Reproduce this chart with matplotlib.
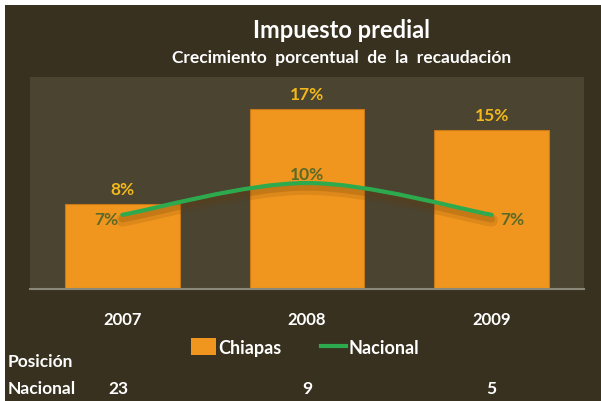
import matplotlib
matplotlib.use("Agg")
import matplotlib.pyplot as plt
from matplotlib.path import Path
from matplotlib.patches import PathPatch, Rectangle
from matplotlib.lines import Line2D
import matplotlib.patheffects as pe
import numpy as np

plt.rcParams['font.family'] = ['Lato', 'DejaVu Sans']
plt.rcParams['font.weight'] = 'bold'

#____datos
years = ['2007', '2008', '2009']
chiapas = [8, 17, 15]
nacional = [7, 10, 7]
posicion = ['23', '9', '5']

bg = '#38311f'
plotbg = '#4a4430'
orange = '#f0961e'
green = '#2eaa4e'
barlab = '#f2b81c'
linelab = '#5c6a28'

fig = plt.figure(figsize=(6.01, 4.02), dpi=100)
fig.patch.set_facecolor('white')
fig.patches.append(Rectangle((5/601, 0), 1, (402-6)/402, transform=fig.transFigure,
                             facecolor=bg, edgecolor='none', zorder=-10))

ax = fig.add_axes([30/601, 112/402, 554/601, 212/402])
ax.set_facecolor(plotbg)
x = np.arange(len(years))
ax.bar(x, chiapas, width=0.62, color=orange, edgecolor='#c87818', linewidth=0.8, zorder=2)
ax.set_xlim(-0.5, 2.5)
ax.set_ylim(0, 20)
for s in ['top', 'left', 'right']:
    ax.spines[s].set_visible(False)
ax.spines['bottom'].set_color('#8a8878')
ax.spines['bottom'].set_linewidth(1.5)
ax.set_yticks([])
ax.set_xticks([])

#linea suavizada (bezier tipo excel)
verts = [(x[0], nacional[0])]
codes = [Path.MOVETO]
pts = list(zip(x, nacional))
for i in range(len(pts)-1):
    p0 = pts[max(i-1, 0)]
    p1 = pts[i]
    p2 = pts[i+1]
    p3 = pts[min(i+2, len(pts)-1)]
    c1 = (p1[0] + (p2[0]-p0[0])/6, p1[1] + (p2[1]-p0[1])/6)
    c2 = (p2[0] - (p3[0]-p1[0])/6, p2[1] - (p3[1]-p1[1])/6)
    verts += [c1, c2, p2]
    codes += [Path.CURVE4]*3
curve = PathPatch(Path(verts, codes), facecolor='none', edgecolor=green, linewidth=3,
                  capstyle='round', zorder=4,
                  path_effects=[pe.SimpleLineShadow(offset=(0, -4), shadow_color='#6a3a08', alpha=0.15, linewidth=9),
                                pe.SimpleLineShadow(offset=(0, -3), shadow_color='#6a3a08', alpha=0.2, linewidth=5),
                                pe.Normal()])
ax.add_patch(curve)

#etiquetas
for i in range(len(years)):
    ax.annotate(f'{chiapas[i]}%', (x[i], chiapas[i]), xytext=(0, 5), textcoords='offset points',
                ha='center', va='bottom', color=barlab, fontsize=12.5, fontweight='bold', zorder=5)
ax.annotate(f'{nacional[0]}%', (x[0], nacional[0]), xytext=(-3, -3), textcoords='offset points',
            ha='right', va='center', color=linelab, fontsize=12.5, fontweight='bold', zorder=5)
ax.annotate(f'{nacional[1]}%', (x[1], nacional[1]), xytext=(0, 1), textcoords='offset points',
            ha='center', va='bottom', color=linelab, fontsize=12.5, fontweight='bold', zorder=5)
ax.annotate(f'{nacional[2]}%', (x[2], nacional[2]), xytext=(6, -3), textcoords='offset points',
            ha='left', va='center', color=linelab, fontsize=12.5, fontweight='bold', zorder=5)

for i in range(len(years)):
    ax.text(x[i], -0.143, years[i], transform=ax.get_xaxis_transform(), ha='center', va='center',
            color='white', fontsize=12, fontweight='bold')
    ax.text(x[i]-(0.02 if i == 0 else 0), -0.465, posicion[i], transform=ax.get_xaxis_transform(),
            ha='center', va='center', color='white', fontsize=12.5, fontweight='bold')

fig.text(8/601, 1-362/402, 'Posición', ha='left', va='center', color='white', fontsize=12.5, fontweight='bold')
fig.text(8/601, 1-389/402, 'Nacional', ha='left', va='center', color='white', fontsize=12.5, fontweight='bold')

fig.text(341/601, 1-31/402, 'Impuesto predial', ha='center', va='center', color='white',
         fontsize=17, fontweight='bold')
fig.text(342/601, 1-58/402, 'Crecimiento  porcentual  de  la  recaudación', ha='center', va='center',
         color='white', fontsize=12.5, fontweight='bold')

handles = [Rectangle((0, 0), 1, 1, facecolor=orange, edgecolor='none'),
           Line2D([0], [0], color=green, linewidth=3)]
fig.legend(handles, ['Chiapas', 'Nacional'], loc='center', bbox_to_anchor=(305/601, 1-348/402),
           ncol=2, frameon=False, labelcolor='white', prop={'size': 13, 'weight': 'bold'},
           handlelength=1.4, handletextpad=0.1, columnspacing=2.2, handleheight=1.1)

fig.savefig('out.png', dpi=100, facecolor=fig.get_facecolor())
